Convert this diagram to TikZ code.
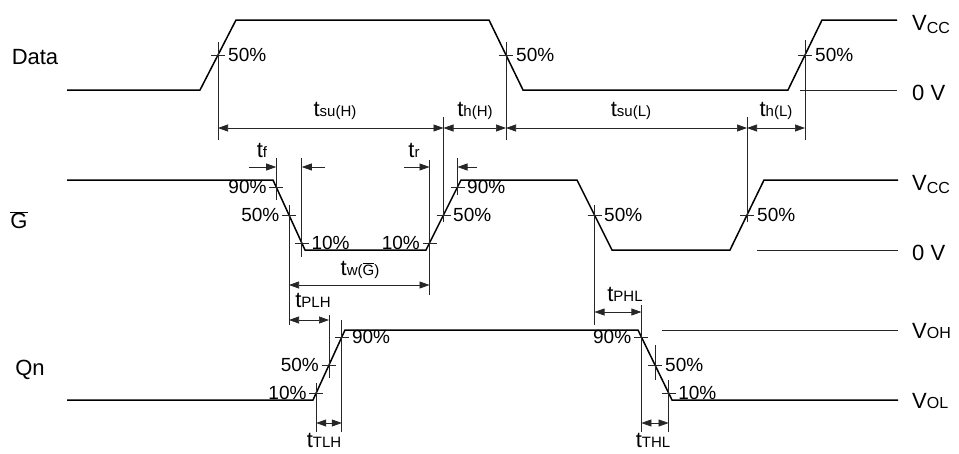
\documentclass[tikz,border=0pt]{standalone}
\usepackage{fontspec}
\setmainfont{Liberation Sans}
\usetikzlibrary{arrows.meta}

\newcommand{\tname}[1]{t{\fontsize{15}{18}\selectfont #1}}
\newcommand{\vname}[1]{V{\fontsize{16}{18}\selectfont #1}}

\begin{document}
\begin{tikzpicture}[
            x = 1pt, y = -1pt, % one unit per pixel, y going down
            > = {Stealth[length=10pt,width=7pt,inset=0pt]}, % arrow head style
            wave/.style = {line width=1.5pt, line join=miter},
            ref/.style = {line width=0.7pt, black!85},
            dim/.style = {ref, <->},
            sig/.style = {font=\fontsize{22}{26}\selectfont, inner sep=0pt},
            lvl/.style = {font=\fontsize{22}{24}\selectfont, inner sep=0pt, anchor=base west},
            pct/.style = {font=\fontsize{19}{21}\selectfont, inner sep=1pt},
            tim/.style = {font=\fontsize{22}{24}\selectfont, inner sep=0pt}
        ]
\useasboundingbox (0,0) rectangle (959,453);

% signal names
\node[sig] (data) at (35,57) {Data};
\node[sig] (gbar) at (19,220) {$\overline{\hbox{G}}$};
\node[sig] (qn) at (30,370) {Qn};

% waveforms
\draw[wave] (67,90) -- (200,90) -- (236,20) -- (489,20) -- (523,90) -- (788,90) -- (822,20) -- (897,20);
\draw[wave] (67,180) -- (273,180) -- (305,250) -- (426,250) -- (461,180) -- (577,180) -- (612,250) -- (730,250) -- (764,180) -- (898,180);
\draw[wave] (67,400) -- (313,400) -- (345,330) -- (638,330) -- (672,400) -- (898,400);

% level lines
\draw[ref] (800,90) -- (897,90);
\draw[ref] (757,250) -- (898,250);
\draw[ref] (662,330) -- (898,330);

\node[lvl] (vcc1) at (912,30) {\vname{\raisebox{-3pt}{CC}}};
\node[lvl] (zero1) at (912,100) {0 V};
\node[lvl] (vcc2) at (912,190) {\vname{\raisebox{-3pt}{CC}}};
\node[lvl] (zero2) at (912,260) {0 V};
\node[lvl] (voh) at (912,338) {\vname{OH}};
\node[lvl] (vol) at (912,408) {\vname{OL}};

% crossing points
\coordinate (d1) at (218,55);
\coordinate (d2) at (506,55);
\coordinate (d3) at (805,55);
\coordinate (g90a) at (276.2,187);
\coordinate (g50a) at (289,215);
\coordinate (g10a) at (301.8,243);
\coordinate (g10b) at (429.5,243);
\coordinate (g50b) at (443.5,215);
\coordinate (g90b) at (457.5,187);
\coordinate (g50c) at (594.5,215);
\coordinate (g50d) at (747,215);
\coordinate (q10a) at (316.2,393);
\coordinate (q50a) at (329,365);
\coordinate (q90a) at (341.8,337);
\coordinate (q90b) at (641.4,337);
\coordinate (q50b) at (655,365);
\coordinate (q10b) at (668.6,393);

% ticks, markers and percent labels
\foreach \p/\a/\b/\side/\s/\t in {d1/42/140/west/9/50, d2/42/140/west/9/50, d3/40/140/west/9/50,
        g90a/158/200/east/-8.5/90, g50a/205/325/east/-8.5/50, g10a/158/257/west/8.5/10,
        g10b/160/295/east/-8.5/10, g50b/117/222/west/8.5/50, g90b/158/195/west/8.5/90,
        g50c/205/325/west/8.5/50, g50d/117/222/west/9/50,
        q10a/383/432/east/-8.5/10, q50a/315/378/east/-9/50, q90a/320/432/west/9/90,
        q90b/305/432/east/-9/90, q50b/345/380/west/9/50, q10b/380/432/west/8.5/10}
{
  \draw[ref] (\p) +(-7,0) -- +(7,0);
  \draw[ref] (\p |- 0,\a) -- (\p |- 0,\b);
  \path (\p) ++(\s,0) node[pct, anchor=\side] (l-\p) {\t\%};
}

% timing arrows
\draw[dim] (d1 |- 0,128) -- (g50b |- 0,128);
\draw[dim] (g50b |- 0,128) -- (d2 |- 0,128);
\draw[dim] (d2 |- 0,128) -- (g50d |- 0,128);
\draw[dim] (g50d |- 0,128) -- (d3 |- 0,128);

\coordinate (tf-l) at (249,167);
\coordinate (tf-r) at (325,167);
\coordinate (tr-l) at (404,167);
\coordinate (tr-r) at (477,167);
\draw[ref,->] (tf-l) -- (g90a |- tf-l);
\draw[ref,->] (tf-r) -- (g10a |- tf-r);
\draw[ref,->] (tr-l) -- (g10b |- tr-l);
\draw[ref,->] (tr-r) -- (g90b |- tr-r);

\draw[dim] (g50a |- 0,285) -- (g10b |- 0,285);
\draw[dim] (g50a |- 0,320) -- (q50a |- 0,320);
\draw[dim] (g50c |- 0,312) -- (q90b |- 0,312);
\draw[dim] (q10a |- 0,423) -- (q90a |- 0,423);
\draw[dim] (q90b |- 0,423) -- (q10b |- 0,423);

% timing labels
\node[tim] (tsuh) at (335,111) {\tname{su(H)}};
\node[tim] (thh) at (475,111) {\tname{h(H)}};
\node[tim] (tsul) at (631,111) {\tname{su(L)}};
\node[tim] (thl) at (776,111) {\tname{h(L)}};
\node[tim] (tf) at (262,150) {\tname{f}};
\node[tim] (tr) at (414,150) {\tname{r}};
\node[tim] (tw) at (360,270) {\tname{w(\(\overline{\hbox{G}}\))}};
\node[tim] (tplh) at (313,300) {\tname{PLH}};
\node[tim] (tphl) at (625,294) {\tname{PHL}};
\node[tim] (ttlh) at (324,440) {\tname{TLH}};
\node[tim] (tthl) at (653,440) {\tname{THL}};
\end{tikzpicture}
\end{document}
